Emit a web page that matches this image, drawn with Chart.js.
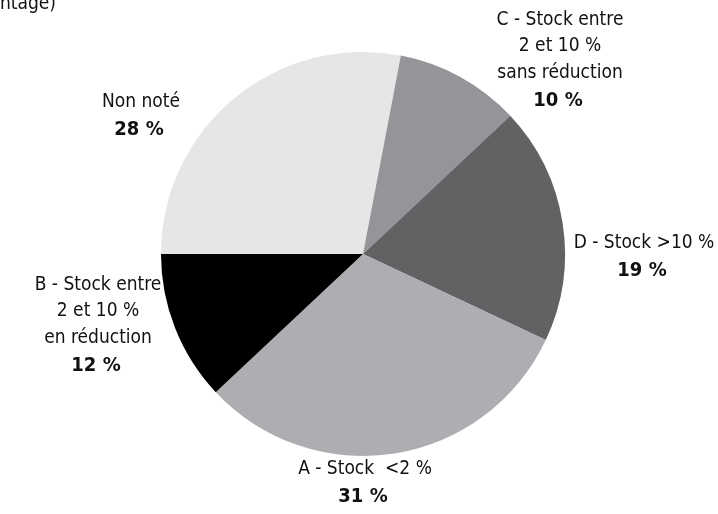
<!DOCTYPE html>
<html>
<head>
<meta charset="utf-8">
<script src="https://cdn.jsdelivr.net/npm/chart.js@4/dist/chart.umd.min.js"></script>
<style>
  html, body { margin: 0; padding: 0; background: #fff; }
  #wrap { width: 718px; height: 514px; position: relative; }
</style>
</head>
<body>
<div id="wrap"><canvas id="c"></canvas></div>
<script>
// données du graphique
const categories = ['Non noté', 'C - Stock entre 2 et 10 % sans réduction', 'D - Stock >10 %', 'A - Stock  <2 %', 'B - Stock entre 2 et 10 % en réduction'];
const valeurs = [28, 10, 19, 31, 12];
const couleurs = ['#e6e6e7', '#939598', '#616264', '#adaeb1', '#000000'];
// lignes des étiquettes (la dernière en gras)
const etiquettes = [
  ['Non noté'],
  ['C - Stock entre', '2 et 10 %', 'sans réduction'],
  ['D - Stock >10 %'],
  ['A - Stock  <2 %'],
  ['B - Stock entre', '2 et 10 %', 'en réduction']
];
const posEtiquettes = [[141, 102], [560, 20], [644, 243], [365, 469], [98, 285]];

const FONT = '"Liberation Sans Narrow", "DejaVu Sans Condensed", "Roboto", sans-serif';

const labelsPlugin = {
  id: 'labelsPlugin',
  afterDraw(chart) {
    const ctx = chart.ctx;
    ctx.save();
    ctx.fillStyle = '#111';
    ctx.textAlign = 'right';
    ctx.textBaseline = 'alphabetic';
    ctx.font = '19px ' + FONT;
    ctx.fillText('(en pourcentage)', 56, 9);
    ctx.textAlign = 'center';
    ctx.textBaseline = 'middle';
    etiquettes.forEach(function(lines, i){
      const p = posEtiquettes[i];
      let y = p[1];
      lines.forEach(function(l){
        ctx.font = '19px ' + FONT;
        ctx.fillText(l, p[0], y);
        y += 26.5;
      });
      ctx.font = 'bold 20px ' + FONT;
      ctx.fillText(valeurs[i] + ' %', p[0] - 2, y + 1);
    });
    ctx.restore();
  }
};

const ctx = document.getElementById('c').getContext('2d');
new Chart(ctx, {
  type: 'pie',
  data: {
    labels: categories,
    datasets: [{ data: valeurs, backgroundColor: couleurs, borderWidth: 0 }]
  },
  options: {
    responsive: true,
    maintainAspectRatio: false,
    animation: false,
    rotation: -90,
    layout: { padding: { top: 52, bottom: 58, left: 8, right: 0 } },
    plugins: { legend: { display: false }, tooltip: { enabled: false } }
  },
  plugins: [labelsPlugin]
});
</script>
</body>
</html>
